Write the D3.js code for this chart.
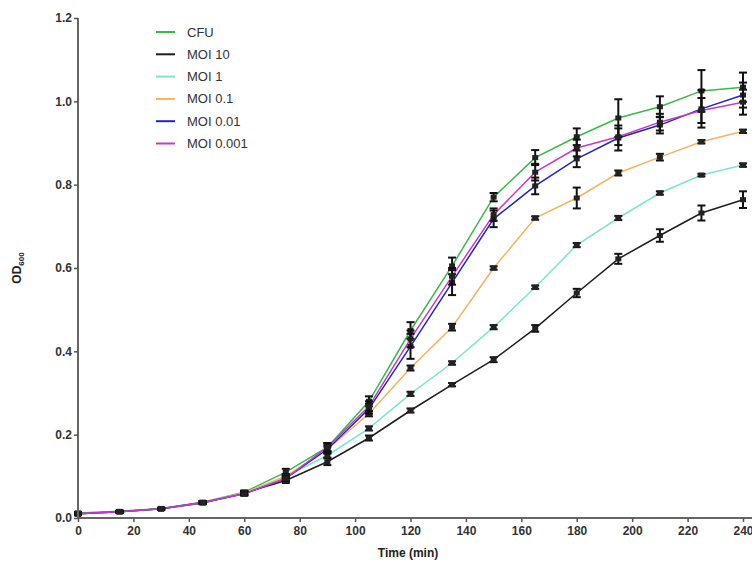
<!DOCTYPE html>
<html>
<head>
<meta charset="utf-8">
<script src="https://cdn.jsdelivr.net/npm/d3@7/dist/d3.min.js"></script>
<style>
  body { margin: 0; background: #fff; }
  text { font-family: "Liberation Sans", Arial, sans-serif; }
</style>
</head>
<body>
<script>
// time points (min)
var time = [0, 15, 30, 45, 60, 75, 90, 105, 120, 135, 150, 165, 180, 195, 210, 225, 240];

// OD600 means per series
var cfu     = [0.012, 0.016, 0.023, 0.038, 0.062, 0.110, 0.170, 0.280, 0.450, 0.605, 0.770, 0.865, 0.915, 0.960, 0.987, 1.025, 1.034];
var moi10   = [0.010, 0.015, 0.022, 0.036, 0.060, 0.090, 0.135, 0.192, 0.258, 0.320, 0.380, 0.455, 0.540, 0.622, 0.678, 0.732, 0.764];
var moi1    = [0.010, 0.015, 0.022, 0.037, 0.060, 0.100, 0.150, 0.215, 0.298, 0.372, 0.458, 0.554, 0.655, 0.720, 0.780, 0.823, 0.847];
var moi01   = [0.010, 0.015, 0.022, 0.037, 0.060, 0.100, 0.165, 0.250, 0.360, 0.458, 0.600, 0.720, 0.768, 0.828, 0.866, 0.903, 0.928];
var moi001  = [0.010, 0.015, 0.022, 0.037, 0.058, 0.095, 0.165, 0.262, 0.412, 0.565, 0.718, 0.797, 0.862, 0.912, 0.943, 0.982, 1.015];
var moi0001 = [0.010, 0.015, 0.022, 0.037, 0.058, 0.095, 0.170, 0.268, 0.430, 0.580, 0.728, 0.830, 0.888, 0.915, 0.950, 0.978, 0.998];

// error (SD) per series
var cfuErr     = [0.003, 0.002, 0.002, 0.003, 0.004, 0.008, 0.010, 0.012, 0.020, 0.020, 0.010, 0.018, 0.020, 0.045, 0.025, 0.050, 0.035];
var moi10Err   = [0.003, 0.002, 0.002, 0.003, 0.004, 0.006, 0.008, 0.006, 0.005, 0.004, 0.006, 0.008, 0.010, 0.012, 0.015, 0.018, 0.020];
var moi1Err    = [0.003, 0.002, 0.002, 0.003, 0.004, 0.005, 0.005, 0.005, 0.005, 0.004, 0.005, 0.004, 0.005, 0.005, 0.004, 0.003, 0.004];
var moi01Err   = [0.003, 0.002, 0.002, 0.003, 0.004, 0.005, 0.006, 0.006, 0.006, 0.008, 0.004, 0.004, 0.025, 0.006, 0.008, 0.004, 0.004];
var moi001Err  = [0.003, 0.002, 0.002, 0.003, 0.004, 0.006, 0.010, 0.012, 0.030, 0.030, 0.020, 0.020, 0.020, 0.030, 0.020, 0.045, 0.030];
var moi0001Err = [0.003, 0.002, 0.002, 0.003, 0.004, 0.006, 0.010, 0.012, 0.020, 0.020, 0.015, 0.020, 0.020, 0.020, 0.020, 0.030, 0.030];

var names  = ["CFU", "MOI 10", "MOI 1", "MOI 0.1", "MOI 0.01", "MOI 0.001"];
var colors = ["#3cb84a", "#1e1e1e", "#7fe3cf", "#f0b464", "#2323c8", "#c43cc4"];
var values = [cfu, moi10, moi1, moi01, moi001, moi0001];
var errors = [cfuErr, moi10Err, moi1Err, moi01Err, moi001Err, moi0001Err];

var xTicks = [0, 20, 40, 60, 80, 100, 120, 140, 160, 180, 200, 220, 240];
var yTicks = [0.0, 0.2, 0.4, 0.6, 0.8, 1.0, 1.2];

var width = 752, height = 563;

var svg = d3.select("body").append("svg")
  .attr("width", width)
  .attr("height", height);

// scales
var x = d3.scaleLinear().domain([0, 240]).range([78, 743]);
var y = d3.scaleLinear().domain([0, 1.2]).range([518, 18]);

// build series from arrays
var series = names.map(function(n, i) {
  return {
    name: n,
    color: colors[i],
    points: time.map(function(t, j) { return { t: t, v: values[i][j], e: errors[i][j] }; })
  };
});

var line = d3.line()
  .x(function(d) { return x(d.t); })
  .y(function(d) { return y(d.v); });

// lines
svg.append("g").selectAll("path")
  .data(series)
  .enter().append("path")
  .attr("d", function(d) { return line(d.points); })
  .attr("fill", "none")
  .attr("stroke", function(d) { return d.color; })
  .attr("stroke-width", 1.5);

// error bars + markers
var grp = svg.append("g").selectAll("g")
  .data(series)
  .enter().append("g");

grp.each(function(s) {
  var g = d3.select(this);
  var pts = g.selectAll("g.pt").data(s.points).enter().append("g").attr("class", "pt");
  pts.append("line")
    .attr("x1", function(d) { return x(d.t); })
    .attr("x2", function(d) { return x(d.t); })
    .attr("y1", function(d) { return y(d.v + d.e); })
    .attr("y2", function(d) { return y(d.v - d.e); })
    .attr("stroke", "#111").attr("stroke-width", 2);
  [1, -1].forEach(function(sg) {
    pts.append("line")
      .attr("x1", function(d) { return x(d.t) - 4; })
      .attr("x2", function(d) { return x(d.t) + 4; })
      .attr("y1", function(d) { return y(d.v + sg * d.e); })
      .attr("y2", function(d) { return y(d.v + sg * d.e); })
      .attr("stroke", "#111").attr("stroke-width", 2);
  });
  pts.append("rect")
    .attr("x", function(d) { return x(d.t) - 3; })
    .attr("y", function(d) { return y(d.v) - 2.5; })
    .attr("width", 6).attr("height", 5)
    .attr("fill", "#222");
});

// axes
var xAxis = svg.append("g")
  .attr("transform", "translate(0,518)")
  .call(d3.axisBottom(x).tickValues(xTicks).tickSize(4).tickPadding(4).tickFormat(d3.format("d")));
xAxis.select(".domain").attr("d", "M78,0H752").attr("stroke", "#666").attr("stroke-width", 2);

var yAxis = svg.append("g")
  .attr("transform", "translate(78,0)")
  .call(d3.axisLeft(y).tickValues(yTicks).tickSize(4).tickPadding(2).tickFormat(d3.format(".1f")));
yAxis.select(".domain").attr("d", "M0,518V18").attr("stroke", "#666").attr("stroke-width", 2);

svg.selectAll(".tick line").attr("stroke", "#555").attr("stroke-width", 1.5);
svg.selectAll(".tick text")
  .attr("font-family", "Liberation Sans, Arial, sans-serif")
  .attr("font-size", 12)
  .attr("font-weight", "bold")
  .attr("fill", "#333");

// axis titles
svg.append("text")
  .attr("x", 408).attr("y", 557)
  .attr("text-anchor", "middle")
  .attr("font-size", 12).attr("font-weight", "bold").attr("fill", "#222")
  .text("Time (min)");

var yt = svg.append("text")
  .attr("transform", "translate(21,268) rotate(-90)")
  .attr("text-anchor", "middle")
  .attr("font-size", 12).attr("font-weight", "bold").attr("fill", "#222");
yt.append("tspan").text("OD");
yt.append("tspan").attr("font-size", 8).attr("dy", 3).text("600");

// legend
var leg = svg.append("g").selectAll("g")
  .data(series)
  .enter().append("g")
  .attr("transform", function(d, i) { return "translate(156," + (32 + i * 22.3) + ")"; });
leg.append("line")
  .attr("x1", 0).attr("x2", 19)
  .attr("stroke", function(d) { return d.color; })
  .attr("stroke-width", 2);
leg.append("text")
  .attr("x", 31).attr("dy", "0.35em")
  .attr("font-size", 13).attr("fill", "#333")
  .text(function(d) { return d.name; });
</script>
</body>
</html>
